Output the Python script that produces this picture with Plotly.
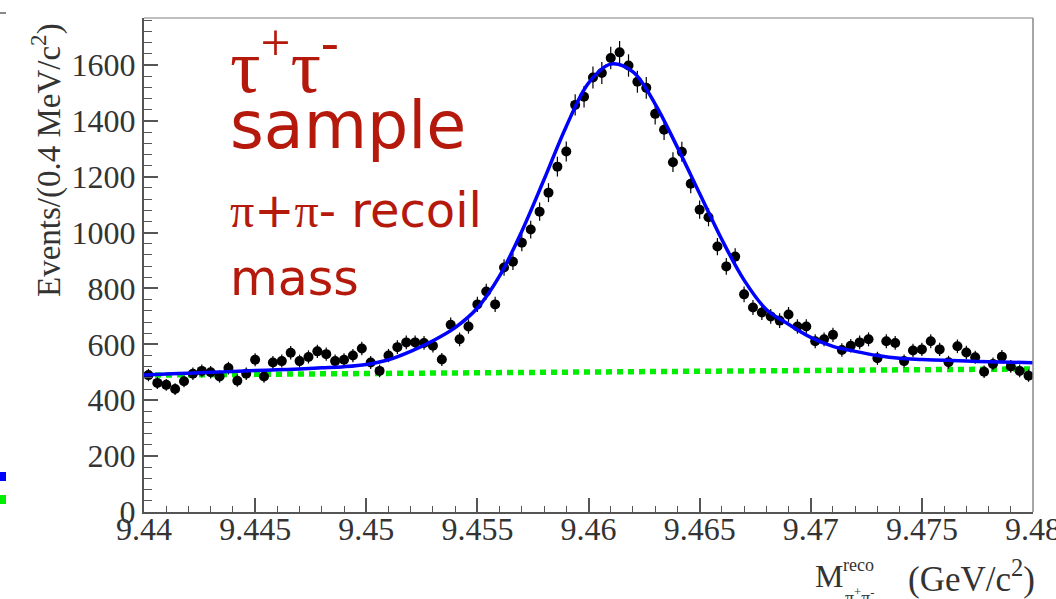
import plotly.graph_objects as go

# ---------------- data ----------------
bin_lo, bin_w, n_bins = 9.44, 0.0004, 100
mass = [round(bin_lo + (i + 0.5) * bin_w, 5) for i in range(n_bins)]
events = [
    490, 462, 455, 440, 468, 495, 505, 500, 485, 515,
    470, 495, 545, 485, 535, 540, 570, 540, 555, 575,
    565, 540, 545, 560, 585, 535, 505, 560, 590, 607,
    607, 605, 595, 546, 670, 618, 664, 743, 789, 743,
    875, 896, 964, 1011, 1075, 1143, 1236, 1290, 1457, 1486,
    1555, 1571, 1625, 1645, 1598, 1540, 1518, 1425, 1368, 1252,
    1289, 1175, 1082, 1055, 950, 879, 914, 779, 732, 714,
    700, 685, 707, 664, 664, 611, 618, 634, 580, 595,
    607, 618, 550, 611, 605, 540, 578, 582, 611, 582,
    536, 593, 571, 554, 502, 530, 556, 521, 505, 488,
]

fit_x = [round(9.440 + 0.001 * i, 3) for i in range(41)]
fit_y = [
    490, 494, 497, 500, 503, 506, 509, 512, 516, 520,
    528, 545, 575, 613, 660, 730, 845, 1005, 1190, 1380,
    1535, 1603, 1575, 1460, 1305, 1140, 975, 830, 725, 672,
    625, 593, 575, 560, 550, 546, 543, 540, 538, 536, 534,
]

bkg_x = [9.44, 9.48]
bkg_y = [490, 512]

y_ticks = [0, 200, 400, 600, 800, 1000, 1200, 1400, 1600]
x_ticks = [9.44, 9.445, 9.45, 9.455, 9.46, 9.465, 9.47, 9.475, 9.48]
x_tick_text = ["9.44", "9.445", "9.45", "9.455", "9.46", "9.465", "9.47", "9.475", "9.48"]

# ---------------- geometry helpers ----------------
W, H = 1056, 599
L, R, T, B = 144, 1033, 18, 512


def px_x(X):
    return (X - L) / (R - L)


def px_y(Y):
    return (B - Y) / (B - T)


RED = "#b5190c"
SERIF = "Liberation Serif, Times New Roman, serif"
SANS = "DejaVu Sans, Verdana, sans-serif"

fig = go.Figure()

fig.add_trace(go.Scatter(
    x=bkg_x, y=bkg_y, mode="lines",
    line=dict(color="#00ee00", width=5.5, dash="6px,5px"),
    hoverinfo="skip", showlegend=False,
))

fig.add_trace(go.Scatter(
    x=mass, y=events, mode="markers",
    marker=dict(color="black", size=10, symbol="circle"),
    error_y=dict(type="sqrt", color="black", thickness=1.2, width=0),
    error_x=dict(type="constant", value=bin_w / 2, color="black", thickness=1.2, width=0),
    showlegend=False,
))

fig.add_trace(go.Scatter(
    x=fit_x, y=fit_y, mode="lines", line_shape="spline",
    line=dict(color="#0000ff", width=3.5),
    showlegend=False,
))

axis_common = dict(
    showgrid=False, zeroline=False, showline=True, linecolor="#555",
    linewidth=2, ticks="inside", tickcolor="#555", tickwidth=1.5,
    ticklen=14, mirror=False, ticklabeloverflow="allow", automargin=False,
    tickfont=dict(family=SERIF, size=32, color="#333"),
)

fig.update_xaxes(
    range=[9.44, 9.48], tickvals=x_ticks, ticktext=x_tick_text,
    ticklabelstandoff=-12,
    minor=dict(dtick=0.001, tick0=9.44, ticks="inside", ticklen=6, tickcolor="#555", tickwidth=1.2),
    **axis_common,
)
fig.update_yaxes(
    range=[0, 1768], tickvals=y_ticks,
    minor=dict(dtick=40, tick0=0, ticks="inside", ticklen=8, tickcolor="#555", tickwidth=1.2),
    **axis_common,
)

shapes = [
    dict(type="line", xref="paper", yref="paper", x0=0, x1=1, y0=1, y1=1,
         line=dict(color="#aaa", width=1.5)),
    dict(type="line", xref="paper", yref="paper", x0=1, x1=1, y0=0, y1=1,
         line=dict(color="#888", width=1.5)),
    # fragments of a cropped legend at the left edge
    dict(type="rect", xref="paper", yref="paper", x0=px_x(0), x1=px_x(6),
         y0=px_y(481), y1=px_y(472), fillcolor="#0000ff", line=dict(width=0)),
    dict(type="rect", xref="paper", yref="paper", x0=px_x(0), x1=px_x(6),
         y0=px_y(504), y1=px_y(495), fillcolor="#00ee00", line=dict(width=0)),
    dict(type="line", xref="paper", yref="paper", x0=px_x(0), x1=px_x(6),
         y0=px_y(13), y1=px_y(13), line=dict(color="#888", width=2)),
]

annotations = [
    dict(text="Events/(0.4 MeV/c<sup>2</sup>)", textangle=-90,
         x=px_x(46), y=px_y(160), xanchor="center", yanchor="middle",
         font=dict(family=SERIF, size=33, color="#333")),
    dict(text="M", x=px_x(813), y=px_y(576), xanchor="left", yanchor="middle",
         font=dict(family=SERIF, size=32, color="#333")),
    dict(text="reco", x=px_x(841), y=px_y(565), xanchor="left", yanchor="middle",
         font=dict(family=SERIF, size=18, color="#333")),
    dict(text="π<sup>+</sup>π<sup>-</sup>", x=px_x(843), y=px_y(596), xanchor="left", yanchor="middle",
         font=dict(family=SERIF, size=18, color="#333")),
    dict(text="(GeV/c<sup>2</sup>)", x=px_x(1037), y=px_y(576), xanchor="right", yanchor="middle",
         font=dict(family=SERIF, size=35, color="#333")),
    dict(text="τ<sup>+</sup>τ<sup>-</sup>", x=px_x(228), y=px_y(60), xanchor="left", yanchor="middle",
         font=dict(family=SERIF, size=76, color=RED)),
    dict(text="sample", x=px_x(228), y=px_y(126), xanchor="left", yanchor="middle",
         font=dict(family=SANS, size=65, color=RED)),
    dict(text="<span style='font-family:Liberation Serif'>π</span>+"
              "<span style='font-family:Liberation Serif'>π</span>- recoil",
         x=px_x(228), y=px_y(210), xanchor="left", yanchor="middle",
         font=dict(family=SANS, size=48, color=RED)),
    dict(text="mass", x=px_x(228), y=px_y(278), xanchor="left", yanchor="middle",
         font=dict(family=SANS, size=49, color=RED)),
]
for a in annotations:
    a.update(xref="paper", yref="paper", showarrow=False)

fig.update_layout(
    width=W, height=H,
    margin=dict(l=L, r=W - R, t=T, b=H - B, autoexpand=False),
    paper_bgcolor="white", plot_bgcolor="white",
    shapes=shapes, annotations=annotations, showlegend=False,
)

fig.write_html("out.html")
